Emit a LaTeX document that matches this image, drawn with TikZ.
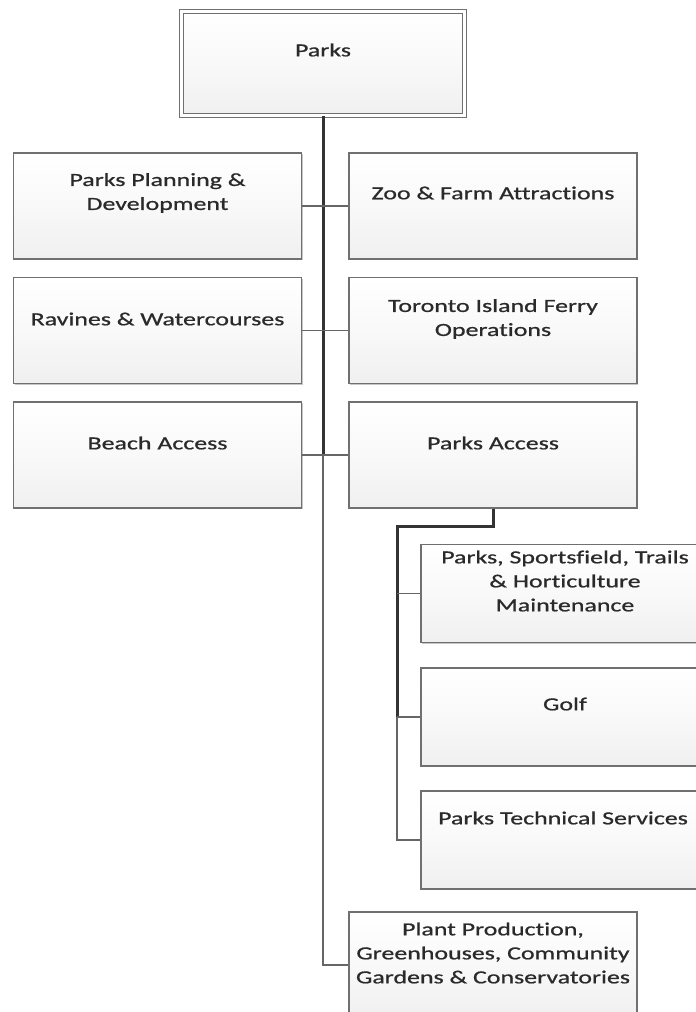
\documentclass[tikz,border=0pt]{standalone}
\usepackage{fontspec}
\setmainfont{Carlito}[FakeStretch=1.4,FakeBold=0.8,Ligatures={NoCommon}]
\usetikzlibrary{shadows}
\definecolor{edge}{HTML}{707070}
\definecolor{ink}{HTML}{2A2A2A}
\definecolor{thickc}{HTML}{333333}
\definecolor{thinc}{HTML}{666666}
\begin{document}
\begin{tikzpicture}[x=1pt,y=-1pt,
  box/.style={draw=edge, line width=1.4pt, inner sep=0pt,
    top color=white, bottom color=black!6, middle color=black!2.5,
    drop shadow={shadow xshift=1.2pt, shadow yshift=-1.2pt, opacity=.22, fill=black}},
  wide/.style={box, minimum width=288pt, minimum height=106pt},
  sub/.style={box, minimum width=288pt, minimum height=98pt},
  topbox/.style={draw=edge, line width=1.2pt, double=white, double distance=2.2pt, inner sep=0pt,
    top color=white, bottom color=black!6, middle color=black!2.5,
    minimum width=283pt, minimum height=104pt,
    drop shadow={shadow xshift=1.2pt, shadow yshift=-1.2pt, opacity=.22, fill=black}},
  txt/.style={align=center, text=ink, inner sep=0pt, font=\fontsize{18.5}{24}\selectfont},
  thickline/.style={draw=thickc, line width=3pt},
  thinline/.style={draw=thinc, line width=1.3pt}]
\useasboundingbox (0,0) rectangle (696,1012);
\clip (0,0) rectangle (696,1012);
\fill[white] (0,0) rectangle (696,1012);

% boxes
\node[topbox] (parks) at (323,63.5) {};
\node[wide] (ppd) at (157.5,206) {};
\node[wide] (zoo) at (493,206) {};
\node[wide] (rav) at (157.5,330.5) {};
\node[wide] (ferry) at (493,330.5) {};
\node[wide] (beach) at (157.5,455) {};
\node[wide] (pacc) at (493,455) {};
\node[sub] (pst) at (565,593.5) {};
\node[sub] (golf) at (565,717) {};
\node[sub] (pts) at (565,840) {};
\node[wide] (plant) at (493,965) {};

% texts
\node[txt] (parksT) at (323,50) {Parks};
\node[txt] (ppdT) at (157.5,193) {Parks Planning \&\\Development};
\node[txt] (zooT) at (493,193) {Zoo \& Farm Attractions};
\node[txt] (ravT) at (157.5,319) {Ravines \& Watercourses};
\node[txt] (ferryT) at (493,319) {Toronto Island Ferry\\Operations};
\node[txt] (beachT) at (157.5,443) {Beach Access};
\node[txt] (paccT) at (493,443) {Parks Access};
\node[txt] (pstT) at (565,581) {Parks, Sportsfield, Trails\\\& Horticulture\\Maintenance};
\node[txt] (golfT) at (565,704) {Golf};
\node[txt] (ptsT) at (563,818) {Parks Technical Services};
\node[txt] (plantT) at (493,953) {Plant Production,\\Greenhouses, Community\\Gardens \& Conservatories};

% connectors
\coordinate (j3) at (323,455);
\coordinate (k) at (397,526);
\draw[thinline] (parks.south) |- (plant.west);
\draw[thickline] (parks.south) -- (j3);
\draw[thinline] (ppd.east) -- (zoo.west);
\draw[thinline] (rav.east) -- (ferry.west);
\draw[thinline] (beach.east) -- (pacc.west);
\draw[thinline] (k) |- (pts.west);
\draw[thickline] (pacc.south) |- (k) -- (k |- golf.west);
\draw[thinline] (k |- pst.west) -- (pst.west);
\draw[thinline] (k |- golf.west) -- (golf.west);
\end{tikzpicture}
\end{document}
